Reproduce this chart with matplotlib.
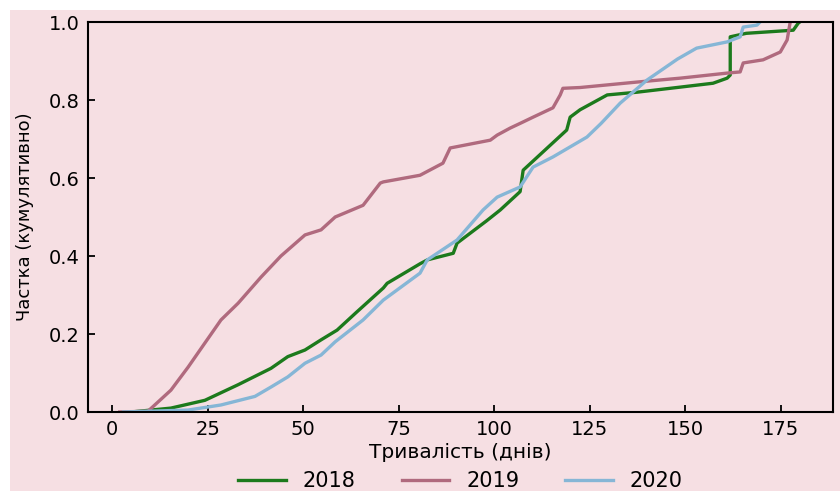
import matplotlib.pyplot as plt
from matplotlib.patches import Rectangle

plt.rcParams['font.family'] = ['DejaVu Sans']

# ECDF of duration (days)
days_2018 = [5, 15.4, 24.3, 33, 41.6, 46, 50.5, 54.7, 58.9, 64, 71, 72, 80.6, 82.5, 89.3,
             90.3, 98, 101.6, 106.8, 107.6, 119, 119.9, 122.5, 129.6, 137.4, 148.7, 157.3,
             161, 161.8, 161.8, 166, 178.3, 179.6, 180]
frac_2018 = [0, 0.01, 0.03, 0.07, 0.112, 0.142, 0.159, 0.185, 0.21, 0.256, 0.318, 0.33, 0.38,
             0.39, 0.407, 0.433, 0.49, 0.518, 0.565, 0.62, 0.723, 0.756, 0.775, 0.813, 0.82,
             0.833, 0.843, 0.856, 0.864, 0.962, 0.971, 0.979, 0.997, 1.0]

days_2019 = [2, 9.4, 15.4, 19.9, 24.3, 28.5, 33, 39, 44.2, 50.5, 54.7, 58.4, 65.7, 70.2, 71,
             80.6, 86.6, 88.5, 99, 100.8, 104.2, 106.8, 110.2, 115.4, 117.3, 118, 122.5,
             137.4, 148.7, 161, 164.4, 165.2, 170.4, 174.9, 176.7, 177.5]
frac_2019 = [0, 0.002, 0.056, 0.115, 0.177, 0.236, 0.279, 0.346, 0.40, 0.454, 0.467, 0.50,
             0.53, 0.587, 0.59, 0.607, 0.638, 0.677, 0.697, 0.71, 0.728, 0.74, 0.756, 0.78,
             0.813, 0.83, 0.832, 0.846, 0.856, 0.869, 0.872, 0.895, 0.903, 0.923, 0.954, 1.0]

days_2020 = [3, 19.9, 28.5, 37.4, 41.6, 46, 50.5, 54.7, 58.4, 65.7, 71, 80.6, 82.5, 90.3, 97.1,
             100.8, 106.8, 110.2, 115.4, 124.3, 128, 133, 140, 148, 153, 161, 164.4, 165.2,
             168.8, 169.6]
frac_2020 = [0, 0.005, 0.018, 0.04, 0.064, 0.09, 0.125, 0.146, 0.18, 0.236, 0.287, 0.356,
             0.39, 0.441, 0.518, 0.551, 0.577, 0.628, 0.654, 0.705, 0.74, 0.792, 0.851, 0.905,
             0.933, 0.949, 0.962, 0.987, 0.992, 1.0]

bg = '#f6dfe3'
fig = plt.figure(figsize=(8.4, 4.91), dpi=100, facecolor='white')
fig.patches.append(Rectangle((10 / 840, 0), 1, 1 - 10 / 491, transform=fig.transFigure,
                             facecolor=bg, edgecolor='none', zorder=-10))
ax = fig.add_axes([88 / 840, 79 / 491, 745 / 840, 390 / 491])
ax.set_facecolor(bg)

ax.plot(days_2018, frac_2018, color='#1c7a1c', lw=2.4, label='2018')
ax.plot(days_2019, frac_2019, color='#b06a7e', lw=2.4, label='2019')
ax.plot(days_2020, frac_2020, color='#86b6d6', lw=2.4, label='2020')

ax.set_xlim(-6.3, 188.7)
ax.set_ylim(0, 1)
ax.set_xticks([0, 25, 50, 75, 100, 125, 150, 175])
ax.set_yticks([0, 0.2, 0.4, 0.6, 0.8, 1.0])
ax.tick_params(direction='in', length=5, width=1.3, labelsize=14, pad=6)
for s in ax.spines.values():
    s.set_linewidth(1.5)

ax.set_xlabel('Тривалість (днів)', fontsize=14.5, labelpad=3)
ax.set_ylabel('Частка (кумулятивно)', fontsize=13, labelpad=11)

ax.legend(loc='center', bbox_to_anchor=(0.5, -0.177), ncol=3, frameon=False,
          fontsize=15, handlelength=2.3, columnspacing=2.2, handletextpad=0.8,
          borderpad=0, borderaxespad=0)

fig.savefig('out.png', dpi=100, facecolor='white')
